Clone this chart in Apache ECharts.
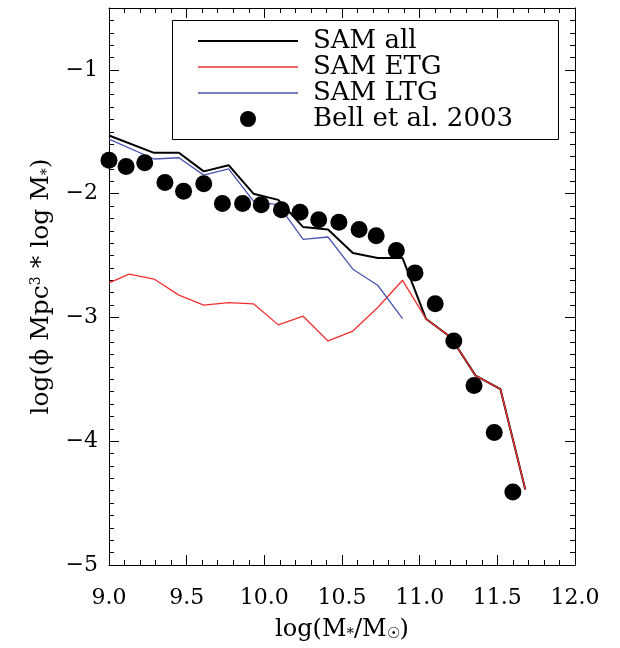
<!DOCTYPE html>
<html>
<head>
<meta charset="utf-8">
<script src="https://cdn.jsdelivr.net/npm/echarts@6/dist/echarts.min.js"></script>
<style>
  html, body { margin: 0; padding: 0; background: #fff; }
  #chart { width: 620px; height: 648px; }
</style>
</head>
<body>
<div id="chart"></div>
<script>
// ---- data ----
const xTicks = [9.0, 9.5, 10.0, 10.5, 11.0, 11.5, 12.0];
const yTicks = [-5, -4, -3, -2, -1];

const samAllX = [9.0, 9.29, 9.45, 9.61, 9.77, 9.93, 10.09, 10.25, 10.41, 10.57, 10.73, 10.89, 11.04, 11.20, 11.36, 11.52, 11.68];
const samAllY = [-1.53, -1.67, -1.67, -1.82, -1.77, -2.00, -2.05, -2.27, -2.29, -2.48, -2.52, -2.52, -3.01, -3.16, -3.47, -3.58, -4.39];

const samEtgX = [9.0, 9.13, 9.29, 9.45, 9.61, 9.77, 9.93, 10.09, 10.25, 10.41, 10.57, 10.73, 10.89, 11.04, 11.20, 11.36, 11.52, 11.68];
const samEtgY = [-2.72, -2.65, -2.69, -2.82, -2.90, -2.88, -2.89, -3.06, -2.99, -3.19, -3.11, -2.92, -2.70, -3.01, -3.16, -3.47, -3.58, -4.39];

const samLtgX = [9.0, 9.29, 9.45, 9.61, 9.77, 9.93, 10.09, 10.25, 10.41, 10.57, 10.73, 10.89];
const samLtgY = [-1.56, -1.72, -1.71, -1.85, -1.80, -2.06, -2.09, -2.37, -2.35, -2.61, -2.74, -3.01];

const bellX = [9.00, 9.11, 9.23, 9.36, 9.48, 9.61, 9.73, 9.86, 9.98, 10.11, 10.23, 10.35, 10.48, 10.61, 10.72, 10.85, 10.97, 11.10, 11.22, 11.35, 11.48, 11.60];
const bellY = [-1.73, -1.78, -1.75, -1.91, -1.98, -1.92, -2.08, -2.08, -2.09, -2.13, -2.15, -2.21, -2.23, -2.29, -2.34, -2.46, -2.64, -2.89, -3.19, -3.55, -3.93, -4.41];

const seriesNames = ['SAM all', 'SAM ETG', 'SAM LTG', 'Bell et al. 2003'];

// ---- helpers ----
const zip = (xs, ys) => xs.map((x, i) => [x, ys[i]]);
const FONT = 'DejaVu Serif';
const fmtY = v => (v < 0 ? '\u2212' : '') + Math.abs(v);
const lineIcon = w => 'path://M0,0L100,0L100,' + w + 'L0,' + w + 'Z';

const chart = echarts.init(document.getElementById('chart'), null, { renderer: 'canvas' });

const majorX = (pos, showLabel) => ({
  type: 'value', position: pos, min: 9, max: 12, interval: 0.5,
  axisLine: { show: true, onZero: false, lineStyle: { color: '#000', width: 1 } },
  axisTick: { show: true, inside: true, length: 10, lineStyle: { color: '#000', width: 1 } },
  minorTick: { show: true, splitNumber: 5, length: 5, lineStyle: { color: '#000', width: 1 } },
  splitLine: { show: false },
  axisLabel: showLabel ? {
    show: true, margin: 22, color: '#000', fontFamily: FONT, fontSize: 22,
    customValues: xTicks, formatter: v => v.toFixed(1)
  } : { show: false },
  name: showLabel ? 'log(M{sub|*}/M{sub|\u2609})' : '',
  nameLocation: 'middle', nameGap: 52,
  nameTextStyle: {
    color: '#000', fontFamily: FONT, fontSize: 24,
    rich: { sub: { fontSize: 15, verticalAlign: 'bottom', padding: [10, 0, 0, 0], fontFamily: FONT, color: '#000' } }
  }
});

const majorY = (pos, showLabel) => ({
  type: 'value', position: pos, min: -5, max: -0.5, interval: 1,
  axisLine: { show: true, onZero: false, lineStyle: { color: '#000', width: 1 } },
  axisTick: { show: true, inside: true, length: 10, customValues: yTicks, lineStyle: { color: '#000', width: 1 } },
  splitLine: { show: false },
  axisLabel: showLabel ? {
    show: true, margin: 11, color: '#000', fontFamily: FONT, fontSize: 22,
    customValues: yTicks,
    formatter: v => (Number.isInteger(v) ? fmtY(v) : '')
  } : { show: false },
  name: showLabel ? 'log(\u03d5 Mpc{sup|3} * log M{sub|*})' : '',
  nameLocation: 'middle', nameGap: 55,
  nameTextStyle: {
    color: '#000', fontFamily: FONT, fontSize: 25,
    rich: {
      sup: { fontSize: 14, verticalAlign: 'top', padding: [0, 0, 11, 0], fontFamily: FONT, color: '#000' },
      sub: { fontSize: 14, verticalAlign: 'bottom', padding: [11, 0, 0, 0], fontFamily: FONT, color: '#000' }
    }
  }
});

const minorY = pos => ({
  type: 'value', position: pos, min: -5, max: -0.5, interval: 0.1,
  axisLine: { show: false },
  axisTick: { show: true, inside: true, length: 5, lineStyle: { color: '#000', width: 1 } },
  axisLabel: { show: false },
  splitLine: { show: false }
});

const option = {
  backgroundColor: '#fff',
  animation: false,
  grid: { left: 109, right: 45, top: 8, bottom: 83, containLabel: false },
  xAxis: [majorX('bottom', true), majorX('top', false)],
  // positions: 3rd and 4th axes flip to the opposite free side automatically
  yAxis: [majorY('left', true), majorY('right', false), minorY('right'), minorY('left')],
  legend: {
    orient: 'vertical', left: 198, top: 28, padding: 0, itemGap: 0,
    itemWidth: 100, itemHeight: 16, symbolKeepAspect: true,
    textStyle: { color: '#000', fontFamily: FONT, fontSize: 26, lineHeight: 26, padding: [0, 0, 0, 10] },
    data: [
      { name: seriesNames[0], icon: lineIcon(2), itemStyle: { color: '#000' } },
      { name: seriesNames[1], icon: lineIcon(1.3), itemStyle: { color: '#f03030' } },
      { name: seriesNames[2], icon: lineIcon(1.3), itemStyle: { color: '#4a55b0' } },
      { name: seriesNames[3], icon: 'circle', itemStyle: { color: '#000', opacity: 1 } }
    ]
  },
  graphic: [{
    type: 'rect', left: 172, top: 20, z: -1,
    shape: { width: 386, height: 119 },
    style: { fill: '#fff', stroke: '#000', lineWidth: 1 }
  }],
  series: [
    {
      name: seriesNames[0], type: 'line', xAxisIndex: 0, yAxisIndex: 0,
      data: zip(samAllX, samAllY), symbol: 'none', showSymbol: false, z: 2,
      lineStyle: { color: '#000', width: 2 }, itemStyle: { color: '#000' }
    },
    {
      name: seriesNames[1], type: 'line', xAxisIndex: 0, yAxisIndex: 0,
      data: zip(samEtgX, samEtgY), symbol: 'none', showSymbol: false, z: 3,
      lineStyle: { color: '#f03030', width: 1.3 }, itemStyle: { color: '#f03030' }
    },
    {
      name: seriesNames[2], type: 'line', xAxisIndex: 0, yAxisIndex: 0,
      data: zip(samLtgX, samLtgY), symbol: 'none', showSymbol: false, z: 3,
      lineStyle: { color: '#4a55b0', width: 1.3 }, itemStyle: { color: '#4a55b0' }
    },
    {
      name: seriesNames[3], type: 'scatter', xAxisIndex: 0, yAxisIndex: 0,
      data: zip(bellX, bellY), symbol: 'circle', symbolSize: 17, clip: false, z: 4,
      itemStyle: { color: '#000', opacity: 1 }
    }
  ]
};

chart.setOption(option);
</script>
</body>
</html>
